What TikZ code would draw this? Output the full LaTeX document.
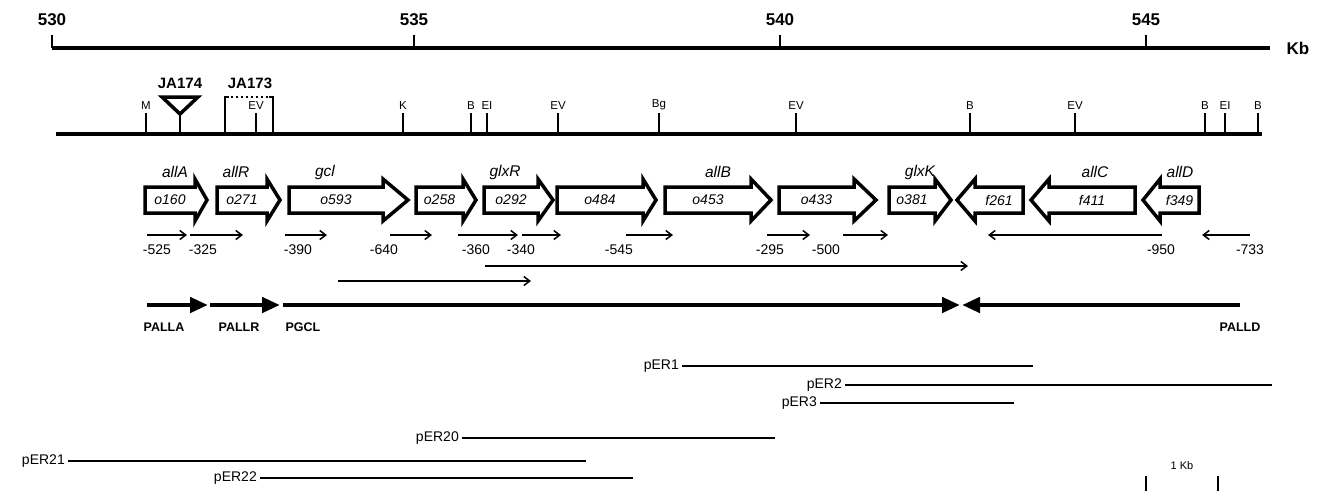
\documentclass[tikz,border=0pt]{standalone}
\usepackage{fontspec}
\setmainfont{Liberation Sans}
\usetikzlibrary{arrows.meta,positioning}

\begin{document}
\begin{tikzpicture}[x=1pt,y=-1pt,
  ruler/.style={line width=4.5pt},
  sitetick/.style={line width=2.2pt},
  kbnum/.style={font=\bfseries\fontsize{17}{17}\selectfont},
  sitelabel/.style={font=\fontsize{11.5}{11.5}\selectfont, inner sep=1pt, anchor=south},
  insertlabel/.style={font=\bfseries\fontsize{15}{15}\selectfont},
  genebox/.style={line width=3.5pt, line join=miter},
  genename/.style={font=\itshape\fontsize{15.5}{15.5}\selectfont},
  orfname/.style={font=\itshape\fontsize{14}{14}\selectfont},
  transcript/.style={line width=1.5pt, -{Straight Barb[length=6pt,width=9pt,line width=1.5pt]}},
  tsslabel/.style={font=\fontsize{14}{14}\selectfont},
  promoter/.style={line width=4.5pt, -{Triangle[length=18pt,width=15pt]}},
  promlabel/.style={font=\bfseries\fontsize{12.5}{12.5}\selectfont},
  clone/.style={line width=1.8pt},
  clonelabel/.style={font=\fontsize{14}{14}\selectfont, anchor=east, inner sep=1pt}
]
  \useasboundingbox (0,0) rectangle (1320,491);

  % kilobase ruler
  \coordinate (kbstart) at (52,48);
  \coordinate (kbend) at (1270,48);
  \draw[ruler] (kbstart) -- (kbend);
  \node[kbnum] (kb) at (1298,48) {Kb};
  \foreach \k/\x in {530/52,535/414,540/780,545/1146} {
    \draw[sitetick] (\x,48) -- (\x,35);
    \node[kbnum] (kb\k) at (\x,20) {\k};
  }

  % restriction map
  \coordinate (mapstart) at (56,134);
  \coordinate (mapend) at (1262,134);
  \draw[ruler] (mapstart) -- (mapend);
  \foreach \x/\s [count=\i] in {146/M,403/K,471/B,487/EI,558/EV,659/Bg,796/EV,970/B,1075/EV,1205/B,1225/EI,1258/B,256/EV} {
    \draw[sitetick] (\x,134) -- (\x,113);
    \node[sitelabel] (site\i) at (\x,111) {\s};
  }

  % insertions
  \draw[genebox] (162,97) -- (198,97) -- (180,114) -- cycle;
  \draw[sitetick] (180,114) -- (180,134);
  \node[insertlabel] (ja174) at (180,83) {JA174};
  \draw[sitetick] (229,97) -- (225,97) -- (225,134);
  \draw[sitetick] (269,97) -- (273,97) -- (273,134);
  \draw[line width=2.2pt, dash pattern=on 2pt off 3pt] (231,97) -- (268,97);
  \node[insertlabel] (ja173) at (250,83) {JA173};

  % genes: tail/neck/tip/orf
  \foreach \t/\n/\p/\orf [count=\i] in {145/195/207/o160, 217/267/280/o271, 289/383/408/o593,
      416/463/476/o258, 484/538/553/o292, 557/643/656/o484, 665/751/771/o453,
      779/854/876/o433, 889/935/951/o381, 1023/975/957/f261, 1135/1049/1031/f411,
      1199/1160/1143/f349} {
    \draw[genebox] (\t,187) -- (\n,187) -- (\n,179) -- (\p,200) -- (\n,221) -- (\n,213) -- (\t,213) -- cycle;
    \node[orfname] (orf\i) at ({(\t+\n)/2},200) {\orf};
  }
  \foreach \x/\g in {175/allA,236/allR,325/gcl,505/glxR,718/allB,920/glxK,1095/allC,1180/allD}
    \node[genename] (name-\g) at (\x,172) {\g};

  % transcription start sites
  \foreach \a/\b/\lx/\v [count=\i] in {147/187/157/525, 190/243/203/325, 285/327/298/390,
      390/432/384/640, 458/518/476/360, 522/561/521/340, 626/673/619/545, 767/810/770/295,
      843/888/826/500, 1162/988/1161/950, 1250/1202/1250/733} {
    \coordinate (ts\i) at (\a,235);
    \coordinate (te\i) at (\b,235);
    \draw[transcript] (ts\i) -- (te\i);
    \node[tsslabel] (tl\i) at (\lx,250) {-\v};
  }
  \coordinate (lta) at (485,266);
  \coordinate (ltb) at (968,266);
  \draw[transcript] (lta) -- (ltb);
  \coordinate (ltc) at (338,281);
  \coordinate (ltd) at (531,281);
  \draw[transcript] (ltc) -- (ltd);

  % promoters
  \foreach \a/\b/\lx/\p in {147/208/164/PALLA, 210/280/239/PALLR, 283/960/303/PGCL, 1240/962/1240/PALLD} {
    \coordinate (\p-s) at (\a,305);
    \coordinate (\p-e) at (\b,305);
    \draw[promoter] (\p-s) -- (\p-e);
    \node[promlabel] (\p) at (\lx,327) {\p};
  }

  % clones
  \foreach \lx/\y/\e/\c in {680/366/1033/pER1, 843/385/1272/pER2, 818/403/1014/pER3,
      460/438/775/pER20, 66/461/586/pER21, 258/478/633/pER22} {
    \node[clonelabel] (\c) at (\lx,\y) {\c};
    \coordinate (\c-end) at (\e,\y);
    \draw[clone] (\c.east) ++(2,0) -- (\c-end);
  }

  % scale bar
  \node[font=\fontsize{11}{11}\selectfont] (onekb) at (1182,466) {1 Kb};
  \coordinate (bara) at (1146,476);
  \coordinate (barb) at (1218,476);
  \draw[line width=1.8pt] (bara) -- ++(0,15);
  \draw[line width=1.8pt] (barb) -- ++(0,15);
\end{tikzpicture}
\end{document}
